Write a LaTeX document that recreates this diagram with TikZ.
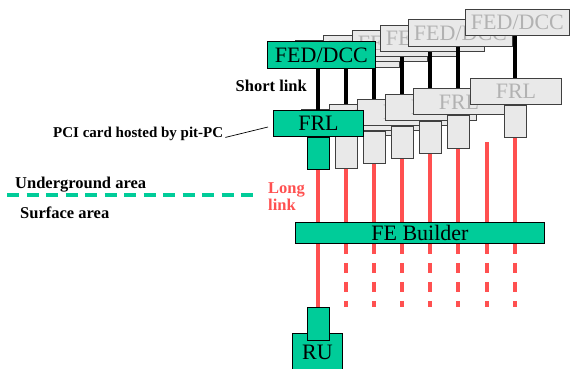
\documentclass[tikz,border=0pt]{standalone}
\usepackage{fontspec}
\setmainfont{Liberation Serif}
\usetikzlibrary{positioning}
\definecolor{bldgreen}{RGB}{0,204,153}
\definecolor{linkred}{RGB}{255,80,80}
\definecolor{cardgray}{RGB}{233,233,233}
\definecolor{textgray}{RGB}{178,178,178}
\tikzset{
		>=stealth,
		graycard/.style={draw=black!75, fill=cardgray, text=textgray, line width=0.9pt,
			inner sep=0pt, anchor=north west, font=\fontsize{22}{24}\selectfont},
		greencard/.style={graycard, draw=black, fill=bldgreen, text=black},
		fedsize/.style={minimum width=104pt, minimum height=26.5pt},
		frlsize/.style={minimum width=91pt, minimum height=26pt},
		plugsize/.style={minimum width=22pt, minimum height=32.5pt},
		shortlink/.style={line width=3.3pt, black},
		longlink/.style={line width=3.4pt, linkred},
		farlink/.style={dash pattern=on 10pt off 9pt},
		areafont/.style={inner sep=0pt, font=\bfseries\fontsize{16.5}{17.5}\selectfont}
	}

\begin{document}
\begin{tikzpicture}[x=1pt, y=-1pt]
		\useasboundingbox (0,0) rectangle (571,369);
		\clip (0,0) rectangle (571,369);
		% Builder and RU
		\node[greencard, minimum width=249pt, minimum height=21pt] (febuilder) at (295,222) {FE Builder};
		\node[greencard, minimum width=50pt, minimum height=38pt] (rubox) at (292,333) {RU};
		\node[greencard, plugsize, anchor=north] (ruplug) at (318,307) {};
		\coordinate (gap6) at (487,142);
		% Gray copies, back to front
		\foreach \i/\fx/\fy/\rx/\ry in {1/295/40.5/301/109, 2/323/35/329/104, 3/352/30/357/99, 4/380/25/385/94, 5/408/19.5/413/88.5, 7/465/9/470/78} {
			\node[graycard, fedsize] (fed\i) at (\fx,\fy) {FED/DCC};
			\node[graycard, frlsize] (frl\i) at (\rx,\ry) {FRL};
			\node[graycard, plugsize, anchor=north] (plug\i) at ([xshift=45pt]frl\i.south west) {};
			\draw[shortlink] (fed\i.south -| plug\i.north) -- (frl\i.north -| plug\i.north);
			\draw[longlink] (plug\i.south) -- (febuilder.north -| plug\i.south);
			\draw[longlink, farlink] (febuilder.south -| plug\i.south) -- (ruplug.north -| plug\i.south);
		}
		\draw[longlink] (gap6) -- (febuilder.north -| gap6);
		\draw[longlink, farlink] (febuilder.south -| gap6) -- (ruplug.north -| gap6);
		% Green front copy
		\node[greencard, minimum width=108pt, minimum height=27pt] (fed0) at (267,41) {FED/DCC};
		\node[greencard, frlsize, minimum width=90pt] (frl0) at (273,110) {FRL};
		\node[greencard, plugsize, anchor=north] (plug0) at ([xshift=45pt]frl0.south west) {};
		\draw[shortlink] (fed0.south -| plug0.north) -- (frl0.north -| plug0.north);
		\draw[longlink] (plug0.south) -- (febuilder.north -| plug0.south);
		\draw[longlink] (febuilder.south -| plug0.south) -- (ruplug.north);
		% Labels
		\node[areafont, anchor=base east] (shortlbl) at (307,92) {Short link};
		\node[areafont, anchor=north west, align=left, text=linkred] (longlbl) at (268,182) {Long\\link};
		\node[areafont, inner sep=2pt, anchor=base west, font=\bfseries\fontsize{15}{17}\selectfont] (pci) at (51,138) {PCI card hosted by pit-PC};
		\coordinate (pcitip) at (268,127);
		\draw[line width=0.7pt] ([yshift=-3pt]pci.east) -- (pcitip);
		\node[areafont, anchor=base west] (under) at (15,188) {Underground area};
		\node[areafont, anchor=base west] (surface) at (20,218) {Surface area};
		% Ground level
		\coordinate (groundl) at (7,195);
		\coordinate (groundr) at (255,195);
		\draw[bldgreen, line width=3.4pt, dash pattern=on 12pt off 7.5pt] (groundl) -- (groundr);
	\end{tikzpicture}
\end{document}
